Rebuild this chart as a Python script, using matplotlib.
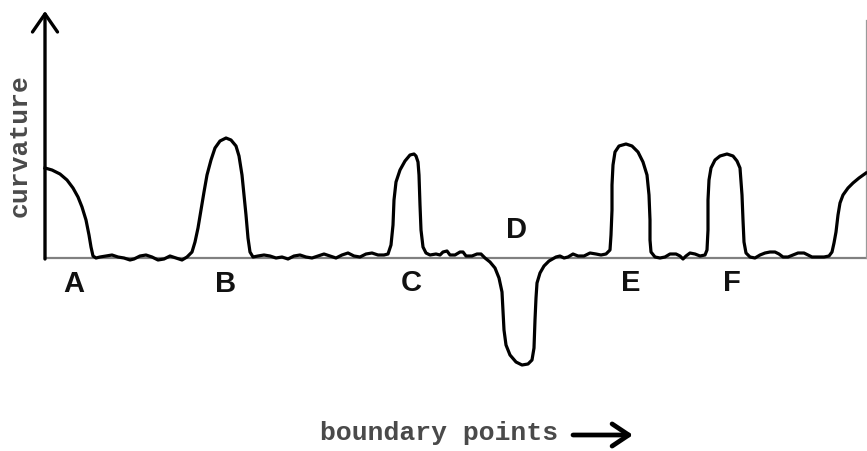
import matplotlib
matplotlib.use('Agg')
import matplotlib.pyplot as plt

# boundary point index and curvature
points = [0, 7, 15, 22, 28, 33, 37, 41, 44, 46, 48, 51,
          55, 61, 67, 73, 79, 85, 89, 95, 101, 107, 113, 119, 125, 131, 137, 142,
          147, 150, 153, 156, 159, 162, 166, 170, 175, 181, 186, 191, 194, 197, 199, 201, 203, 205, 208,
          213, 219, 225, 231, 237, 243, 249, 255, 261, 267, 273, 279, 285, 291, 297, 303, 309, 315, 321, 327, 333, 339, 343,
          346, 348, 349, 351, 355, 360, 365, 369, 371, 373, 374, 375, 376, 378, 381, 385,
          391, 395, 398, 402, 405, 410, 415, 418, 421, 427, 432, 436,
          440, 445, 450, 454, 457, 458, 459, 461, 465, 471, 477, 483, 487, 489, 490, 491, 492, 495, 499, 504, 511,
          515, 519, 523, 528, 533, 539, 545, 551, 556, 561,
          565, 566, 567, 567, 568, 570, 574, 581, 587, 593, 598, 602, 604, 605, 605, 606, 610,
          615, 620, 625, 631, 635, 638, 641, 645, 650, 655, 660,
          662, 663, 663, 664, 666, 670, 675, 682, 688, 692, 695, 697, 698, 699, 701, 705,
          710, 715, 720, 725, 730, 734, 738, 743, 748, 753, 759, 763, 767, 773, 779, 784,
          787, 789, 791, 793, 795, 798, 803, 808, 814, 821]
curvature = [90, 88, 84, 78, 70, 61, 51, 38, 23, 11, 2, 0,
             1, 2, 3, 1, 0, -2, -1, 2, 3, 1, -2, -1, 2, 0, -2, 1,
             6, 16, 30, 48, 66, 83, 98, 110, 117, 120, 118, 112, 102, 83, 63, 43, 20, 6, 1,
             2, 3, 2, 0, 1, -1, 2, 3, 1, 0, 2, 4, 2, 0, 3, 5, 2, 1, 4, 5, 3, 3, 4,
             13, 33, 58, 76, 88, 97, 103, 104, 102, 96, 83, 53, 28, 11, 5, 3,
             4, 3, 6, 7, 3, 3, 6, 6, 2, 2, 4, 4,
             0, -4, -10, -20, -34, -52, -72, -87, -97, -104, -107, -106, -102, -90, -62, -40, -25, -15, -8, -3, 1,
             2, 0, 1, 4, 2, 2, 5, 4, 3, 4,
             8, 23, 48, 73, 93, 106, 112, 114, 112, 106, 96, 83, 63, 38, 18, 6, 1,
             0, 1, 4, 4, 2, -1, 2, 5, 4, 2, 3,
             8, 28, 58, 78, 90, 98, 102, 104, 102, 97, 90, 63, 38, 16, 5, 1,
             0, 3, 5, 6, 6, 4, 1, 1, 3, 5, 5, 3, 1, 1, 1, 2,
             6, 15, 26, 43, 55, 63, 70, 75, 80, 85]

labels = ['A', 'B', 'C', 'D', 'E', 'F']
label_x = [29, 181, 366, 472, 586, 687]
label_y = [-26, -26, -25, 28, -25, -25]

fig = plt.figure(figsize=(8.67, 4.51), dpi=100)
ax = fig.add_axes([45 / 867, 1 - 408 / 451, 822 / 867, 396 / 451])
ax.set_xlim(0, 822)
ax.set_ylim(-150, 246)
ax.axis('off')

# baseline and right border
ax.plot([0, 822], [0, 0], color='#808080', lw=1.6, clip_on=False)
ax.plot([821, 821], [0, 238], color='#9a9a9a', lw=0.9, clip_on=False)

# y axis with arrow
ax.annotate('', xy=(0, 247), xytext=(0, -1),
            arrowprops=dict(arrowstyle='->,head_length=0.65,head_width=0.45',
                            lw=2.4, color='black', mutation_scale=20,
                            shrinkA=0, shrinkB=0), annotation_clip=False)

ax.plot(points, curvature, color='black', lw=2.3, solid_joinstyle='round', clip_on=False)

for lab, x, y in zip(labels, label_x, label_y):
    ax.text(x, y, lab, ha='center', va='center', fontsize=21,
            fontweight='bold', family='Liberation Sans', color='#111111')

fig.text(20 / 867, 1 - 146 / 451, 'curvature', rotation=90, ha='center', va='center',
         fontsize=19, family='Liberation Mono', fontweight='bold', color='#4a4a4a')
fig.text(439 / 867, 11 / 451, 'boundary points', ha='center', va='baseline',
         fontsize=19, family='Liberation Mono', fontweight='bold', color='#4a4a4a')

plt.annotate('', xy=(633, 16), xytext=(573, 16), xycoords='figure pixels',
             textcoords='figure pixels',
             arrowprops=dict(arrowstyle='->,head_length=0.6,head_width=0.4',
                             lw=3.4, color='black', mutation_scale=20,
                             shrinkA=0, shrinkB=0))

fig.savefig('out.png', dpi=100)
